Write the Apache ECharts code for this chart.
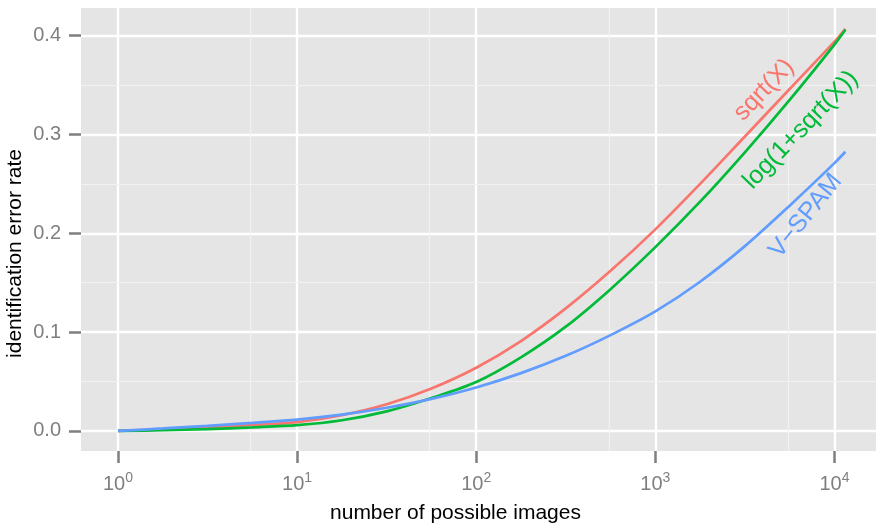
<!DOCTYPE html>
<html><head><meta charset="utf-8">
<script src="https://cdn.jsdelivr.net/npm/echarts@6/dist/echarts.min.js"></script>
<style>html,body{margin:0;padding:0;background:#fff}#c{width:876px;height:526px}</style>
</head><body><div id="c"></div>
<script>
// x values (number of possible images)
const xValues = [1, 1.778, 3.162, 5.623, 10, 17.78, 31.62, 56.23, 100, 177.8, 316.2, 562.3, 1000, 1778, 3162, 5623, 10000, 11510];
// identification error rate per method
const sqrtX    = [0, 0.0015, 0.0035, 0.006, 0.009, 0.016, 0.027, 0.043, 0.064, 0.091, 0.124, 0.162, 0.204, 0.250, 0.298, 0.346, 0.394, 0.407];
const logSqrtX = [0, 0.0007, 0.0019, 0.0036, 0.0058, 0.0108, 0.0198, 0.0333, 0.0495, 0.0745, 0.1055, 0.1435, 0.186, 0.232, 0.282, 0.335, 0.391, 0.406];
const vSpam    = [0, 0.0025, 0.0052, 0.0082, 0.0115, 0.0165, 0.0235, 0.0325, 0.044, 0.0585, 0.076, 0.097, 0.121, 0.151, 0.187, 0.228, 0.271, 0.2825];
const seriesNames = ['sqrt(X)', 'log(1+sqrt(X))', 'V\u2212SPAM'];
const seriesColors = ['#F8766D', '#00BA38', '#619CFF'];
// direct-label anchors (data space)
const labelX = [4046, 6486, 6900];
const labelY = [0.345, 0.3045, 0.2175];
// ticks
const xTicks = [1, 10, 100, 1000, 10000];
const yTicks = [0, 0.1, 0.2, 0.3, 0.4];
const xMinor = [5.5, 55, 550, 5500];
const yMinor = [0.05, 0.15, 0.25, 0.35];

const FONT = '"Liberation Sans", Arial, Helvetica, sans-serif';
const values = [sqrtX, logSqrtX, vSpam];
const labelRotate = [46, 46, 51];

const series = values.map((vals, i) => ({
  name: seriesNames[i],
  type: 'line',
  data: xValues.map((x, j) => [x, vals[j]]),
  showSymbol: false,
  smooth: 0.3,
  z: 3,
  lineStyle: { color: seriesColors[i], width: 2.7 },
  itemStyle: { color: seriesColors[i] },
  markPoint: {
    silent: true,
    symbol: 'circle',
    symbolSize: 1,
    itemStyle: { color: 'rgba(0,0,0,0)' },
    data: [{ coord: [labelX[i], labelY[i]] }],
    label: {
      show: true, position: 'inside', rotate: labelRotate[i],
      formatter: seriesNames[i], color: seriesColors[i],
      fontSize: 25, fontFamily: FONT
    }
  }
}));

series.unshift({
  type: 'line', data: [], z: 1, silent: true,
  markLine: {
    silent: true, z: 1, symbol: ['none', 'none'], animation: false,
    label: { show: false },
    lineStyle: { color: '#F2F2F2', width: 1.2, type: 'solid' },
    data: xMinor.map(v => ({ xAxis: v })).concat(yMinor.map(v => ({ yAxis: v })))
  }
});

const chart = echarts.init(document.getElementById('c'), null, { renderer: 'canvas' });
chart.setOption({
  animation: false,
  backgroundColor: '#ffffff',
  grid: { left: 81, top: 8, right: 0, bottom: 75, containLabel: false, outerBoundsMode: 'none',
          show: true, backgroundColor: '#E5E5E5', borderWidth: 0 },
  xAxis: {
    type: 'log', logBase: 10,
    min: Math.pow(10, -0.2066), max: Math.pow(10, 4.232),
    name: 'number of possible images', nameLocation: 'middle', nameGap: 52, nameMoveOverlap: false,
    nameTextStyle: { fontSize: 21, color: '#000', fontFamily: FONT, padding: [0, 46, 0, 0] },
    axisLine: { show: false, onZero: false },
    axisTick: { show: true, length: 12, lineStyle: { color: '#7F7F7F', width: 2.5 }, customValues: xTicks },
    axisLabel: {
      customValues: xTicks, margin: 20, color: '#7F7F7F', fontFamily: FONT,
      formatter: v => '{b|10}{s|' + Math.round(Math.log10(v)) + '}',
      rich: {
        b: { fontSize: 20, color: '#7F7F7F', fontFamily: FONT },
        s: { fontSize: 14, color: '#7F7F7F', fontFamily: FONT, padding: [0, 0, 12, 0] }
      }
    },
    splitLine: { show: true, lineStyle: { color: '#FFFFFF', width: 2.4 } },
    minorSplitLine: { show: false }
  },
  yAxis: {
    type: 'value', min: -0.0203, max: 0.428,
    name: 'identification error rate', nameLocation: 'middle', nameGap: 55, nameMoveOverlap: false,
    nameTextStyle: { fontSize: 21, color: '#000', fontFamily: FONT, padding: [0, 48, 0, 0] },
    axisLine: { show: false, onZero: false },
    axisTick: { show: true, length: 12, lineStyle: { color: '#7F7F7F', width: 2.5 }, customValues: yTicks },
    axisLabel: { customValues: yTicks, margin: 20, fontSize: 20, color: '#7F7F7F', fontFamily: FONT, formatter: v => v.toFixed(1) },
    splitLine: { show: true, lineStyle: { color: '#FFFFFF', width: 2.4 } }
  },
  series: series
});
</script></body></html>
